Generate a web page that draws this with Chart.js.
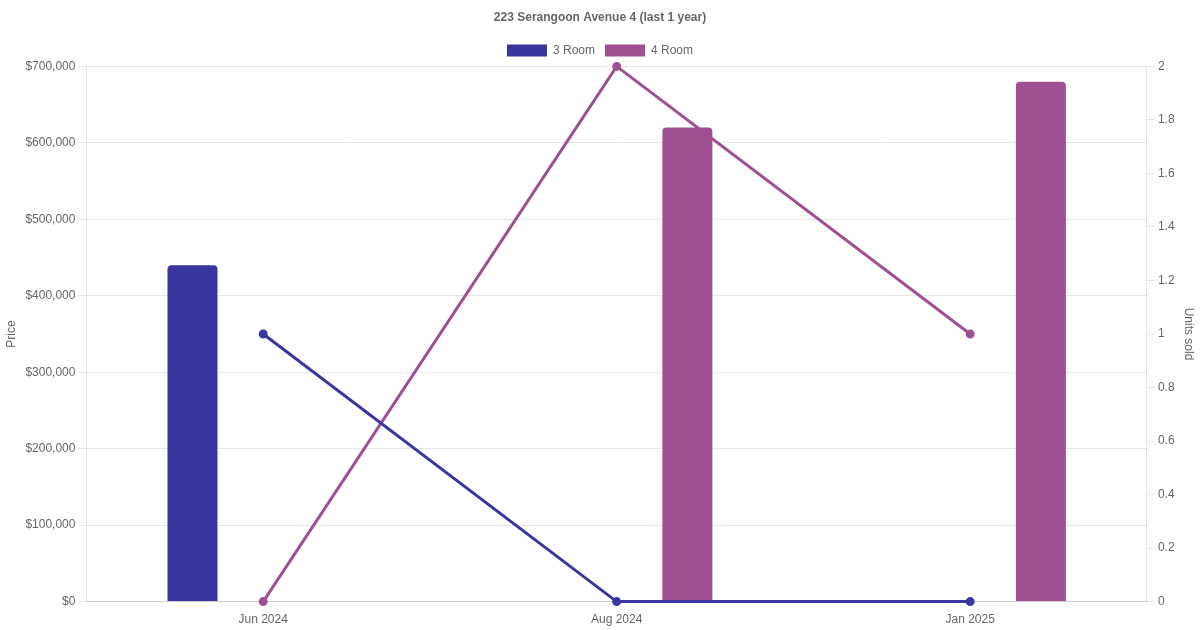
<!DOCTYPE html>
<html>
<head>
<meta charset="utf-8">
<script src="https://cdn.jsdelivr.net/npm/chart.js@4"></script>
<style>
    html, body { margin: 0; padding: 0; background: #fff; }
    #wrap { width: 1200px; height: 630px; }
</style>
</head>
<body>
<div id="wrap"><canvas id="salesChart"></canvas></div>
<script>
// Data
const months = ['Jun 2024', 'Aug 2024', 'Jan 2025'];
const price3Room = [440000, null, null];
const price4Room = [null, 620000, 680000];
const units3Room = [1, 0, 0];
const units4Room = [0, 2, 1];

const COLOR_3 = '#3a36a0';
const COLOR_4 = '#9f5093';

Chart.defaults.font.family = '"Liberation Sans", Arial, sans-serif';
Chart.defaults.font.size = 12;
Chart.defaults.color = '#666';

const ctx = document.getElementById('salesChart').getContext('2d');
new Chart(ctx, {
    type: 'bar',
    data: {
        labels: months,
        datasets: [
            {
                label: '3 Room',
                data: price3Room,
                backgroundColor: COLOR_3,
                borderRadius: 4,
                maxBarThickness: 50,
                yAxisID: 'y',
                order: 2
            },
            {
                label: '4 Room',
                data: price4Room,
                backgroundColor: COLOR_4,
                borderRadius: 4,
                maxBarThickness: 50,
                yAxisID: 'y',
                order: 2
            },
            {
                type: 'line',
                label: '3 Room units',
                data: units3Room,
                borderColor: COLOR_3,
                backgroundColor: COLOR_3,
                borderWidth: 3,
                pointRadius: 3,
                tension: 0,
                clip: false,
                yAxisID: 'y1',
                order: 1
            },
            {
                type: 'line',
                label: '4 Room units',
                data: units4Room,
                borderColor: COLOR_4,
                backgroundColor: COLOR_4,
                borderWidth: 3,
                pointRadius: 3,
                tension: 0,
                clip: false,
                yAxisID: 'y1',
                order: 1
            }
        ]
    },
    options: {
        responsive: true,
        maintainAspectRatio: false,
        animation: false,
        plugins: {
            title: {
                display: true,
                text: '223 Serangoon Avenue 4 (last 1 year)',
                font: { size: 12, weight: 'bold' },
                color: '#666'
            },
            legend: {
                labels: {
                    filter: (item) => item.datasetIndex < 2
                }
            }
        },
        scales: {
            x: {
                grid: { display: false }
            },
            y: {
                position: 'left',
                min: 0, max: 700000,
                ticks: {
                    stepSize: 100000,
                    callback: (v) => '$' + v.toLocaleString('en-US')
                },
                title: { display: true, text: 'Price' }
            },
            y1: {
                position: 'right',
                min: 0, max: 2,
                ticks: {
                    stepSize: 0.2,
                    callback: (v) => String(Number(v.toFixed(1)))
                },
                grid: { drawOnChartArea: false },
                title: { display: true, text: 'Units sold' }
            }
        }
    }
});
</script>
</body>
</html>
